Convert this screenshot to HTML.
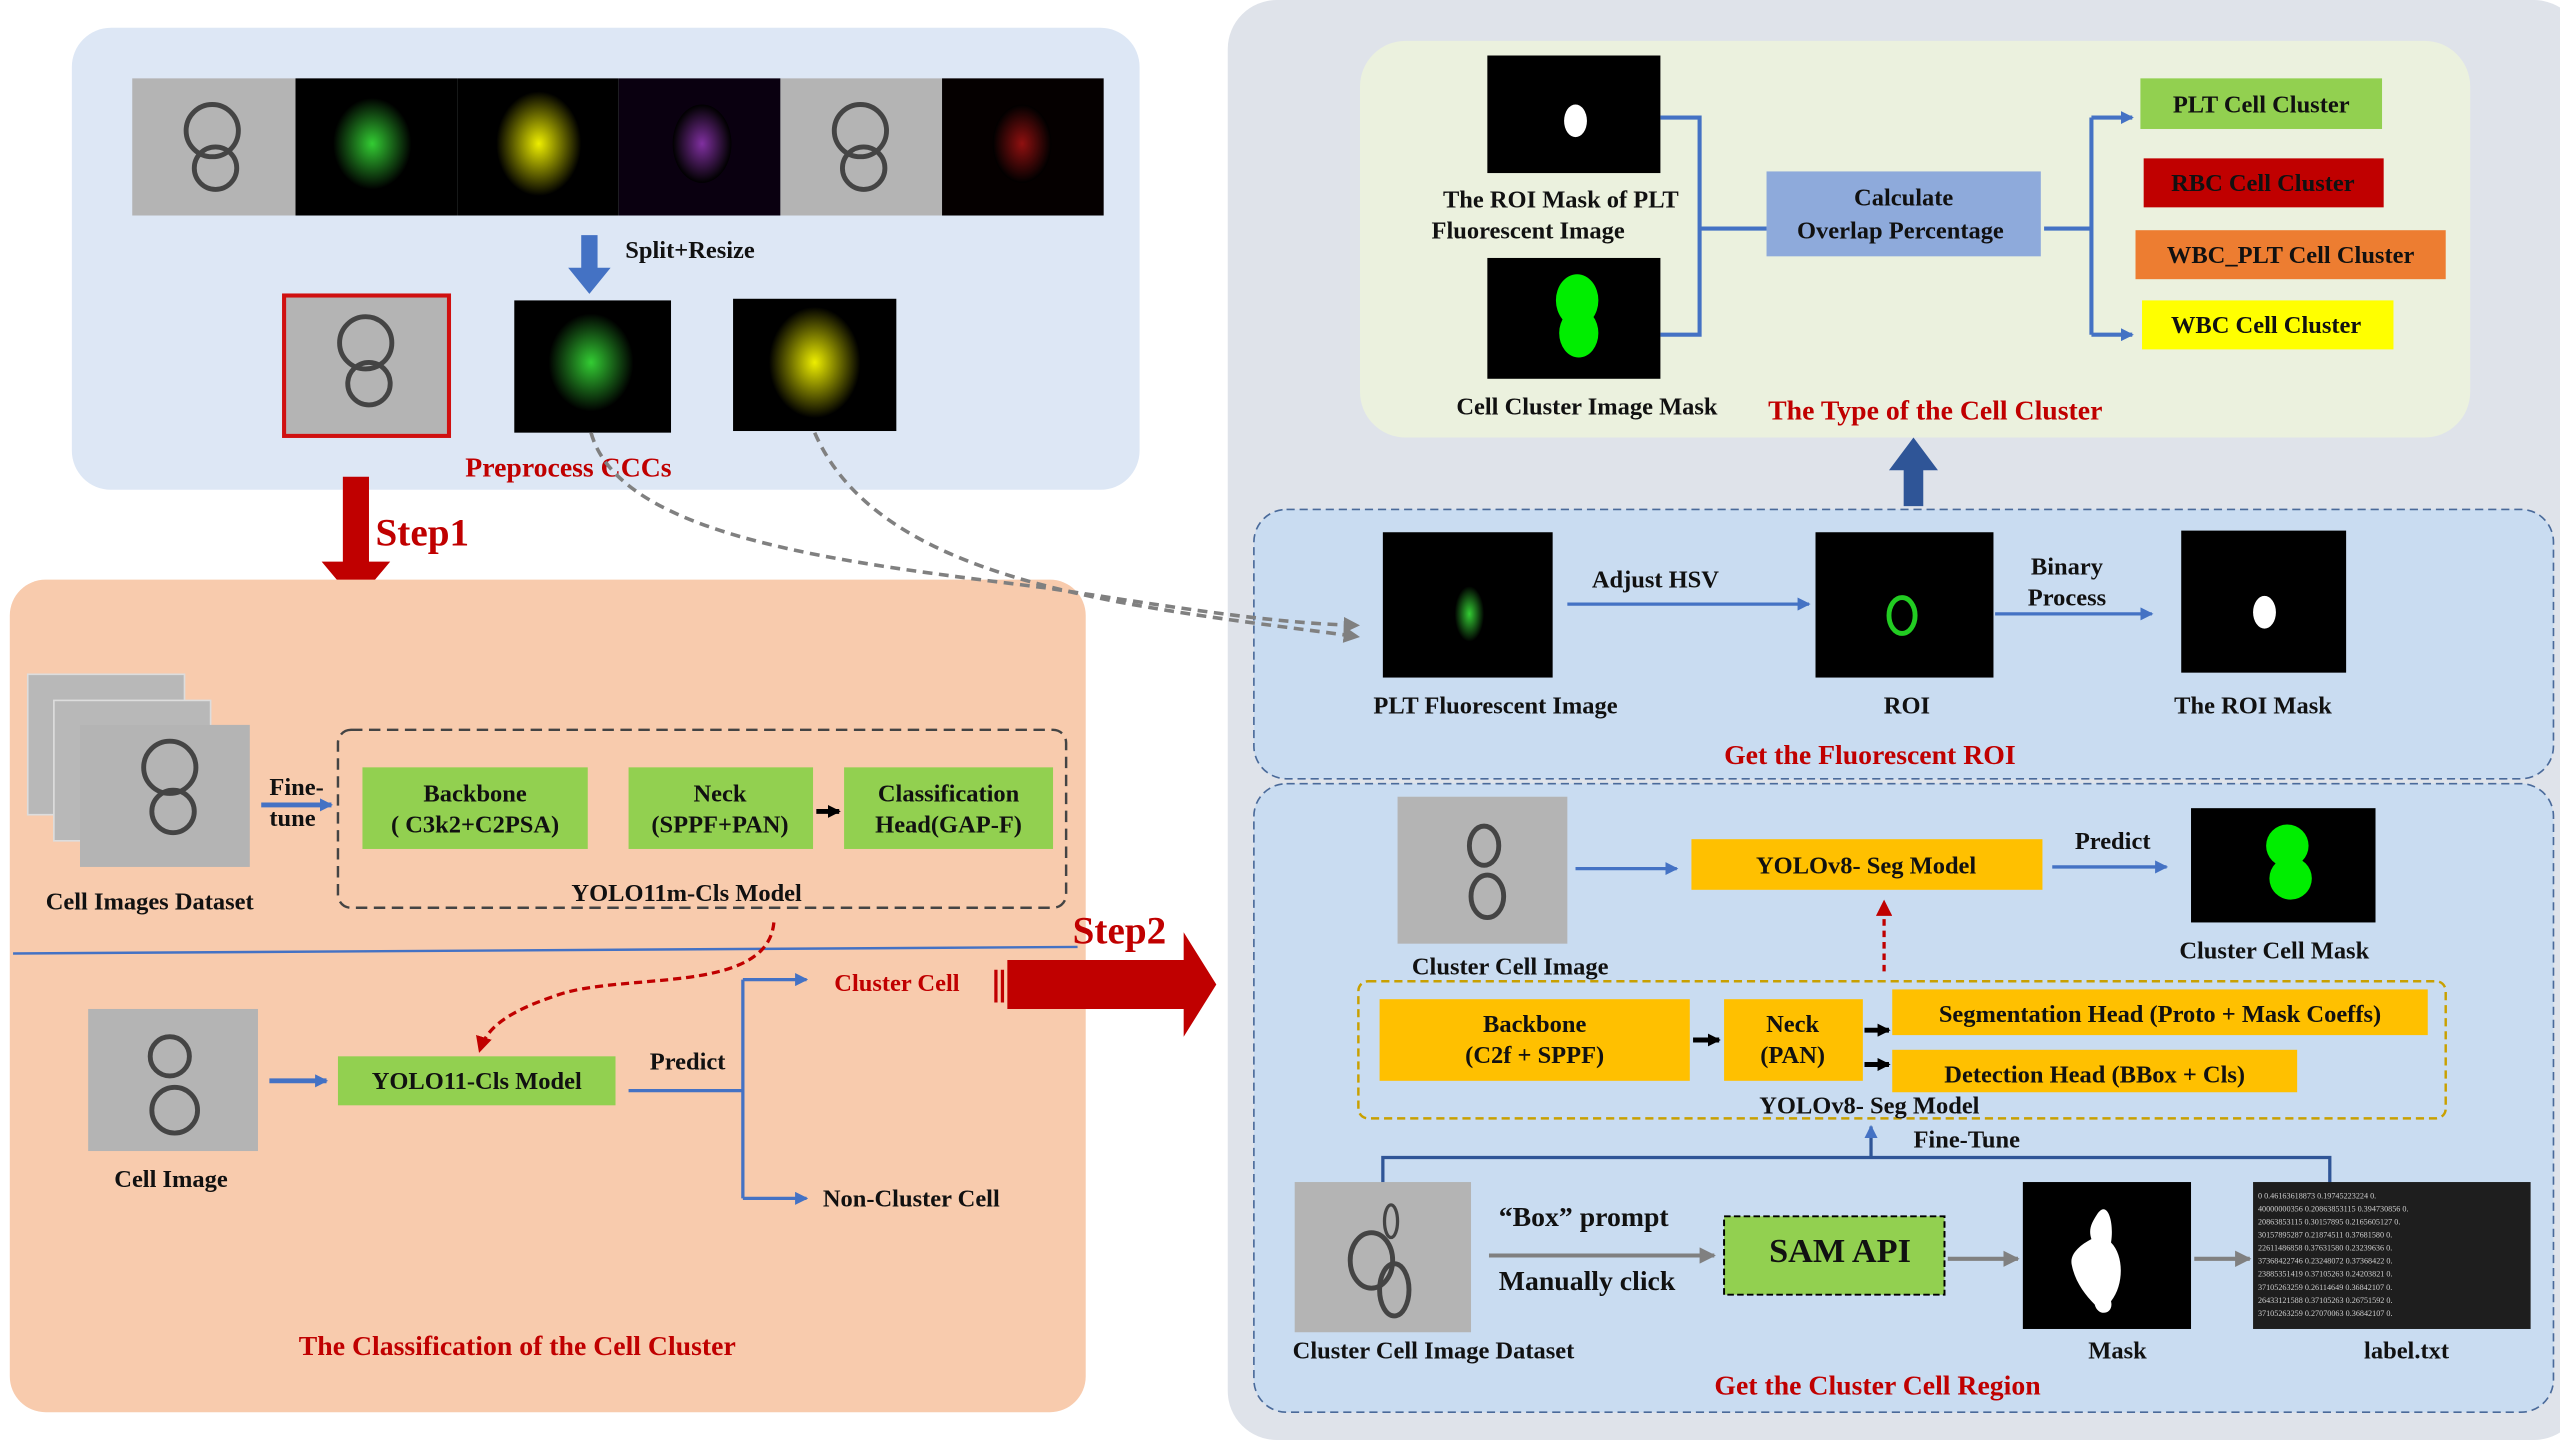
<!DOCTYPE html>
<html><head><meta charset="utf-8"><style>
html,body{margin:0;padding:0;background:#fff;width:2560px;height:1440px;overflow:hidden}
svg text{font-family:"Liberation Serif",serif;font-weight:bold;fill:#111}
.r{fill:#c00000}
</style></head><body>
<svg width="2560" height="1440" viewBox="0 0 1568 882" xmlns="http://www.w3.org/2000/svg">
<defs>
<marker id="ab" markerWidth="8" markerHeight="8" refX="7" refY="4" orient="auto" markerUnits="userSpaceOnUse"><path d="M0,0L8,4L0,8z" fill="#4472c4"/></marker>
<marker id="ag" markerWidth="10" markerHeight="10" refX="9" refY="5" orient="auto" markerUnits="userSpaceOnUse"><path d="M0,0L10,5L0,10z" fill="#808080"/></marker>
<marker id="ak" markerWidth="8" markerHeight="8" refX="7" refY="4" orient="auto" markerUnits="userSpaceOnUse"><path d="M0,0L8,4L0,8z" fill="#000"/></marker>
<marker id="ar" markerWidth="10" markerHeight="10" refX="8" refY="5" orient="auto" markerUnits="userSpaceOnUse"><path d="M0,0L10,5L0,10z" fill="#c00000"/></marker>
<radialGradient id="gg"><stop offset="0" stop-color="#3c3"/><stop offset="1" stop-color="#000"/></radialGradient>
<radialGradient id="gy"><stop offset="0" stop-color="#ee0"/><stop offset="1" stop-color="#000"/></radialGradient>
<radialGradient id="gp"><stop offset="0" stop-color="#8030a0"/><stop offset="1" stop-color="#000"/></radialGradient>
<radialGradient id="gr"><stop offset="0" stop-color="#901010"/><stop offset="1" stop-color="#000"/></radialGradient>
</defs>

<!-- top-left panel -->
<rect x="44" y="17" width="654" height="283" rx="24" fill="#dde7f5"/>
<rect x="81" y="48" width="100" height="84" fill="#b4b4b4"/>
<circle cx="130" cy="80" r="16" fill="none" stroke="#444" stroke-width="3"/><circle cx="132" cy="103" r="13" fill="none" stroke="#444" stroke-width="3"/>
<rect x="181" y="48" width="99" height="84" fill="#000"/><ellipse cx="228" cy="88" rx="24" ry="28" fill="url(#gg)"/>
<rect x="280" y="48" width="99" height="84" fill="#000"/><ellipse cx="330" cy="88" rx="26" ry="32" fill="url(#gy)"/>
<rect x="379" y="48" width="99" height="84" fill="#0a0010"/><ellipse cx="430" cy="88" rx="18" ry="24" fill="url(#gp)"/>
<rect x="478" y="48" width="99" height="84" fill="#b4b4b4"/>
<circle cx="527" cy="80" r="16" fill="none" stroke="#444" stroke-width="3"/><circle cx="529" cy="103" r="13" fill="none" stroke="#444" stroke-width="3"/>
<rect x="577" y="48" width="99" height="84" fill="#050000"/><ellipse cx="626" cy="88" rx="18" ry="24" fill="url(#gr)"/>
<path d="M356,144h10v20h8l-13,16l-13,-16h8z" fill="#4472c4"/>
<text x="383" y="158" font-size="15">Split+Resize</text>
<rect x="174" y="181" width="101" height="86" fill="#b4b4b4" stroke="#d01010" stroke-width="2.5"/>
<circle cx="224" cy="210" r="16" fill="none" stroke="#444" stroke-width="3"/><circle cx="226" cy="235" r="13" fill="none" stroke="#444" stroke-width="3"/>
<rect x="315" y="184" width="96" height="81" fill="#000"/><ellipse cx="362" cy="222" rx="26" ry="30" fill="url(#gg)"/>
<rect x="449" y="183" width="100" height="81" fill="#000"/><ellipse cx="499" cy="222" rx="28" ry="34" fill="url(#gy)"/>
<text x="285" y="292" font-size="17" class="r">Preprocess CCCs</text>

<!-- Step1 -->
<path d="M210,292h16v52h13l-21,25l-21,-25h13z" fill="#c00000"/>
<text x="230" y="334" font-size="24" class="r">Step1</text>

<!-- bottom-left panel -->
<rect x="6" y="355" width="659" height="510" rx="22" fill="#f8cbad"/>
<rect x="17" y="413" width="96" height="86" fill="#b8b8b8" stroke="#ddd"/>
<rect x="33" y="429" width="96" height="86" fill="#b8b8b8" stroke="#ddd"/>
<rect x="49" y="444" width="104" height="87" fill="#b4b4b4"/>
<circle cx="104" cy="470" r="16" fill="none" stroke="#444" stroke-width="3"/><circle cx="106" cy="497" r="13" fill="none" stroke="#444" stroke-width="3"/>
<text x="28" y="557" font-size="15">Cell Images Dataset</text>
<text x="165" y="487" font-size="15">Fine-</text><text x="165" y="506" font-size="15">tune</text>
<line x1="160" y1="493" x2="203" y2="493" stroke="#4472c4" stroke-width="3" marker-end="url(#ab)"/>
<rect x="207" y="447" width="446" height="109" rx="8" fill="none" stroke="#444" stroke-width="1.5" stroke-dasharray="7,4"/>
<rect x="222" y="470" width="138" height="50" fill="#92d050"/>
<text x="291" y="491" font-size="15" text-anchor="middle">Backbone</text><text x="291" y="510" font-size="15" text-anchor="middle">( C3k2+C2PSA)</text>
<rect x="385" y="470" width="113" height="50" fill="#92d050"/>
<text x="441" y="491" font-size="15" text-anchor="middle">Neck</text><text x="441" y="510" font-size="15" text-anchor="middle">(SPPF+PAN)</text>
<line x1="500" y1="497" x2="514" y2="497" stroke="#000" stroke-width="3" marker-end="url(#ak)"/>
<rect x="517" y="470" width="128" height="50" fill="#92d050"/>
<text x="581" y="491" font-size="15" text-anchor="middle">Classification</text><text x="581" y="510" font-size="15" text-anchor="middle">Head(GAP-F)</text>
<text x="350" y="552" font-size="15">YOLO11m-Cls Model</text>
<line x1="8" y1="584" x2="660" y2="580" stroke="#4472c4" stroke-width="1.5"/>
<path d="M474,565 C470,610 380,595 340,610 C310,620 298,630 294,643" fill="none" stroke="#c00000" stroke-width="2" stroke-dasharray="5,3" marker-end="url(#ar)"/>
<rect x="54" y="618" width="104" height="87" fill="#b4b4b4"/>
<circle cx="104" cy="647" r="12" fill="none" stroke="#444" stroke-width="3"/><circle cx="107" cy="680" r="14" fill="none" stroke="#444" stroke-width="3"/>
<text x="70" y="727" font-size="15">Cell Image</text>
<line x1="165" y1="662" x2="200" y2="662" stroke="#4472c4" stroke-width="3" marker-end="url(#ab)"/>
<rect x="207" y="647" width="170" height="30" fill="#92d050"/>
<text x="292" y="667" font-size="15" text-anchor="middle">YOLO11-Cls Model</text>
<text x="398" y="655" font-size="15">Predict</text>
<path d="M385,668H455M455,600V734" fill="none" stroke="#4472c4" stroke-width="2"/>
<line x1="455" y1="600" x2="494" y2="600" stroke="#4472c4" stroke-width="2" marker-end="url(#ab)"/>
<line x1="455" y1="734" x2="494" y2="734" stroke="#4472c4" stroke-width="2" marker-end="url(#ab)"/>
<text x="511" y="607" font-size="15" class="r">Cluster Cell</text>
<text x="504" y="739" font-size="15">Non-Cluster Cell</text>
<text x="183" y="830" font-size="17" class="r">The Classification of the Cell  Cluster</text>

<!-- Step2 -->
<path d="M609,594h2v20h-2zM613,594h2v20h-2zM617,588h108v-17l20,32l-20,32v-17h-108z" fill="#c00000"/>
<text x="657" y="578" font-size="24" class="r">Step2</text>

<!-- right outer panel -->
<rect x="752" y="0" width="830" height="882" rx="30" fill="#dfe3ea"/>
<!-- green top -->
<rect x="833" y="25" width="680" height="243" rx="28" fill="#ebf1de"/>
<rect x="911" y="34" width="106" height="72" fill="#000"/><ellipse cx="965" cy="74" rx="7" ry="10" fill="#fff"/>
<text x="956" y="127" font-size="15" text-anchor="middle">The ROI Mask of  PLT</text>
<text x="936" y="146" font-size="15" text-anchor="middle">Fluorescent Image</text>
<rect x="911" y="158" width="106" height="74" fill="#000"/>
<ellipse cx="966" cy="184" rx="13" ry="16" fill="#00ee00"/><ellipse cx="967" cy="204" rx="12" ry="15" fill="#00ee00"/>
<text x="972" y="254" font-size="15" text-anchor="middle">Cell Cluster Image Mask</text>
<path d="M1017,72H1041V205H1017M1041,140H1082" fill="none" stroke="#4472c4" stroke-width="2.5"/>
<rect x="1082" y="105" width="168" height="52" fill="#8eaadb"/>
<text x="1166" y="126" font-size="15" text-anchor="middle">Calculate</text>
<text x="1164" y="146" font-size="15" text-anchor="middle">Overlap Percentage</text>
<path d="M1252,140H1281M1281,72V205" fill="none" stroke="#4472c4" stroke-width="2.5"/>
<line x1="1281" y1="72" x2="1306" y2="72" stroke="#4472c4" stroke-width="2.5" marker-end="url(#ab)"/>
<line x1="1281" y1="205" x2="1306" y2="205" stroke="#4472c4" stroke-width="2.5" marker-end="url(#ab)"/>
<rect x="1311" y="48" width="148" height="31" fill="#92d050"/><text x="1385" y="69" font-size="15" text-anchor="middle">PLT Cell Cluster</text>
<rect x="1313" y="97" width="147" height="30" fill="#c00000"/><text x="1386" y="117" font-size="15" text-anchor="middle" fill="#400">RBC Cell Cluster</text>
<rect x="1308" y="141" width="190" height="30" fill="#ed7d31"/><text x="1403" y="161" font-size="15" text-anchor="middle">WBC_PLT Cell Cluster</text>
<rect x="1312" y="184" width="154" height="30" fill="#ffff00"/><text x="1388" y="204" font-size="15" text-anchor="middle">WBC Cell Cluster</text>
<text x="1083" y="257" font-size="17" class="r">The Type of the Cell Cluster</text>
<path d="M1166,310V288h-9l15,-20l15,20h-9v22z" fill="#2f5597"/>

<!-- middle panel -->
<rect x="768" y="312" width="796" height="165" rx="20" fill="#c9dcf1" stroke="#4a6a9a" stroke-width="1" stroke-dasharray="5,3"/>
<rect x="847" y="326" width="104" height="89" fill="#000"/><ellipse cx="900" cy="376" rx="9" ry="17" fill="url(#gg)"/>
<text x="916" y="437" font-size="15" text-anchor="middle">PLT Fluorescent Image</text>
<text x="975" y="360" font-size="15">Adjust  HSV</text>
<line x1="960" y1="370" x2="1108" y2="370" stroke="#4472c4" stroke-width="2" marker-end="url(#ab)"/>
<rect x="1112" y="326" width="109" height="89" fill="#000"/><ellipse cx="1165" cy="377" rx="8" ry="11" fill="none" stroke="#2c2" stroke-width="3"/>
<text x="1168" y="437" font-size="15" text-anchor="middle">ROI</text>
<text x="1266" y="352" font-size="15" text-anchor="middle">Binary</text>
<text x="1266" y="371" font-size="15" text-anchor="middle">Process</text>
<line x1="1222" y1="376" x2="1318" y2="376" stroke="#4472c4" stroke-width="2" marker-end="url(#ab)"/>
<rect x="1336" y="325" width="101" height="87" fill="#000"/><ellipse cx="1387" cy="375" rx="7" ry="10" fill="#fff"/>
<text x="1380" y="437" font-size="15" text-anchor="middle">The ROI Mask</text>
<text x="1056" y="468" font-size="17" class="r">Get the Fluorescent  ROI</text>

<!-- bottom panel -->
<rect x="768" y="480" width="796" height="385" rx="20" fill="#c9dcf1" stroke="#4a6a9a" stroke-width="1" stroke-dasharray="5,3"/>
<rect x="856" y="488" width="104" height="90" fill="#b4b4b4"/>
<ellipse cx="909" cy="518" rx="9" ry="12" fill="none" stroke="#444" stroke-width="3"/><ellipse cx="911" cy="549" rx="10" ry="13" fill="none" stroke="#444" stroke-width="3"/>
<text x="925" y="597" font-size="15" text-anchor="middle">Cluster Cell Image</text>
<line x1="965" y1="532" x2="1027" y2="532" stroke="#4472c4" stroke-width="2" marker-end="url(#ab)"/>
<rect x="1036" y="514" width="215" height="31" fill="#ffc000"/>
<text x="1143" y="535" font-size="15" text-anchor="middle">YOLOv8- Seg Model</text>
<text x="1294" y="520" font-size="15" text-anchor="middle">Predict</text>
<line x1="1257" y1="531" x2="1327" y2="531" stroke="#4472c4" stroke-width="2" marker-end="url(#ab)"/>
<rect x="1342" y="495" width="113" height="70" fill="#000"/>
<ellipse cx="1401" cy="518" rx="13" ry="13" fill="#00ee00"/><ellipse cx="1403" cy="538" rx="13" ry="13" fill="#00ee00"/>
<text x="1393" y="587" font-size="15" text-anchor="middle">Cluster Cell Mask</text>
<line x1="1154" y1="595" x2="1154" y2="553" stroke="#c00000" stroke-width="2" stroke-dasharray="4,3" marker-end="url(#ar)"/>
<rect x="832" y="601" width="666" height="84" rx="6" fill="none" stroke="#c9a000" stroke-width="1.5" stroke-dasharray="5,3"/>
<rect x="845" y="612" width="190" height="50" fill="#ffc000"/>
<text x="940" y="632" font-size="15" text-anchor="middle">Backbone</text><text x="940" y="651" font-size="15" text-anchor="middle">(C2f + SPPF)</text>
<line x1="1037" y1="637" x2="1053" y2="637" stroke="#000" stroke-width="3" marker-end="url(#ak)"/>
<rect x="1056" y="612" width="85" height="50" fill="#ffc000"/>
<text x="1098" y="632" font-size="15" text-anchor="middle">Neck</text><text x="1098" y="651" font-size="15" text-anchor="middle">(PAN)</text>
<line x1="1142" y1="631" x2="1157" y2="631" stroke="#000" stroke-width="3" marker-end="url(#ak)"/>
<line x1="1142" y1="652" x2="1157" y2="652" stroke="#000" stroke-width="3" marker-end="url(#ak)"/>
<rect x="1159" y="606" width="328" height="28" fill="#ffc000"/>
<text x="1323" y="626" font-size="15" text-anchor="middle">Segmentation Head (Proto + Mask Coeffs)</text>
<rect x="1159" y="643" width="248" height="26" fill="#ffc000"/>
<text x="1283" y="663" font-size="15" text-anchor="middle">Detection Head (BBox + Cls)</text>
<text x="1145" y="682" font-size="15" text-anchor="middle">YOLOv8- Seg Model</text>
<path d="M847,725V709H1427V725" fill="none" stroke="#2f5597" stroke-width="2"/>
<line x1="1146" y1="709" x2="1146" y2="690" stroke="#2f5597" stroke-width="2" marker-end="url(#ab)"/>
<text x="1172" y="703" font-size="15">Fine-Tune</text>
<rect x="793" y="724" width="108" height="92" fill="#b4b4b4"/>
<ellipse cx="840" cy="772" rx="13" ry="17" fill="none" stroke="#444" stroke-width="3"/><ellipse cx="854" cy="790" rx="9" ry="16" fill="none" stroke="#444" stroke-width="3"/><ellipse cx="852" cy="748" rx="4" ry="10" fill="none" stroke="#444" stroke-width="2"/>
<text x="878" y="832" font-size="15" text-anchor="middle">Cluster Cell Image Dataset</text>
<text x="918" y="751" font-size="17">“Box” prompt</text>
<text x="918" y="790" font-size="17">Manually click</text>
<line x1="912" y1="769" x2="1050" y2="769" stroke="#808080" stroke-width="2.5" marker-end="url(#ag)"/>
<rect x="1056" y="745" width="135" height="48" fill="#92d050" stroke="#000" stroke-width="1.2" stroke-dasharray="4,2"/>
<text x="1127" y="773" font-size="21" text-anchor="middle">SAM API</text>
<line x1="1193" y1="771" x2="1236" y2="771" stroke="#808080" stroke-width="2.5" marker-end="url(#ag)"/>
<rect x="1239" y="724" width="103" height="90" fill="#000"/>
<path d="M1285,743c6,-8 10,6 8,18c8,8 8,26 0,36c2,8 -8,10 -10,2c-6,-6 -12,-14 -14,-24c-2,-8 8,-14 12,-16c-2,-6 0,-10 4,-16z" fill="#fff"/>
<text x="1297" y="832" font-size="15" text-anchor="middle">Mask</text>
<line x1="1344" y1="771" x2="1378" y2="771" stroke="#808080" stroke-width="2.5" marker-end="url(#ag)"/>
<rect x="1380" y="724" width="170" height="90" fill="#1e1e1e"/>
<g font-family="Liberation Mono" font-size="5" fill="#ccc" style="font-weight:normal">
<text x="1383" y="734" style="font-weight:normal;fill:#ccc">0 0.46163618873 0.19745223224 0.</text>
<text x="1383" y="742" style="font-weight:normal;fill:#ccc">40000000356 0.20863853115 0.394730856 0.</text>
<text x="1383" y="750" style="font-weight:normal;fill:#ccc">20863853115 0.30157895 0.2165605127 0.</text>
<text x="1383" y="758" style="font-weight:normal;fill:#ccc">30157895287 0.21874511 0.37681580 0.</text>
<text x="1383" y="766" style="font-weight:normal;fill:#ccc">22611486858 0.37631580 0.23239636 0.</text>
<text x="1383" y="774" style="font-weight:normal;fill:#ccc">37368422746 0.23248072 0.37368422 0.</text>
<text x="1383" y="782" style="font-weight:normal;fill:#ccc">23885351419 0.37105263 0.24203821 0.</text>
<text x="1383" y="790" style="font-weight:normal;fill:#ccc">37105263259 0.26114649 0.36842107 0.</text>
<text x="1383" y="798" style="font-weight:normal;fill:#ccc">26433121588 0.37105263 0.26751592 0.</text>
<text x="1383" y="806" style="font-weight:normal;fill:#ccc">37105263259 0.27070063 0.36842107 0.</text>
</g>
<text x="1474" y="832" font-size="15" text-anchor="middle">label.txt</text>
<text x="1150" y="854" font-size="17" class="r" text-anchor="middle">Get the Cluster Cell Region</text>

<!-- gray dashed curves -->
<path d="M362,265 C380,330 520,345 640,360 C720,372 780,382 832,383" fill="none" stroke="#808080" stroke-width="2.2" stroke-dasharray="6,4" marker-end="url(#ag)"/>
<path d="M499,265 C540,360 700,372 832,390" fill="none" stroke="#808080" stroke-width="2.2" stroke-dasharray="6,4" marker-end="url(#ag)"/>
</svg>
</body></html>
